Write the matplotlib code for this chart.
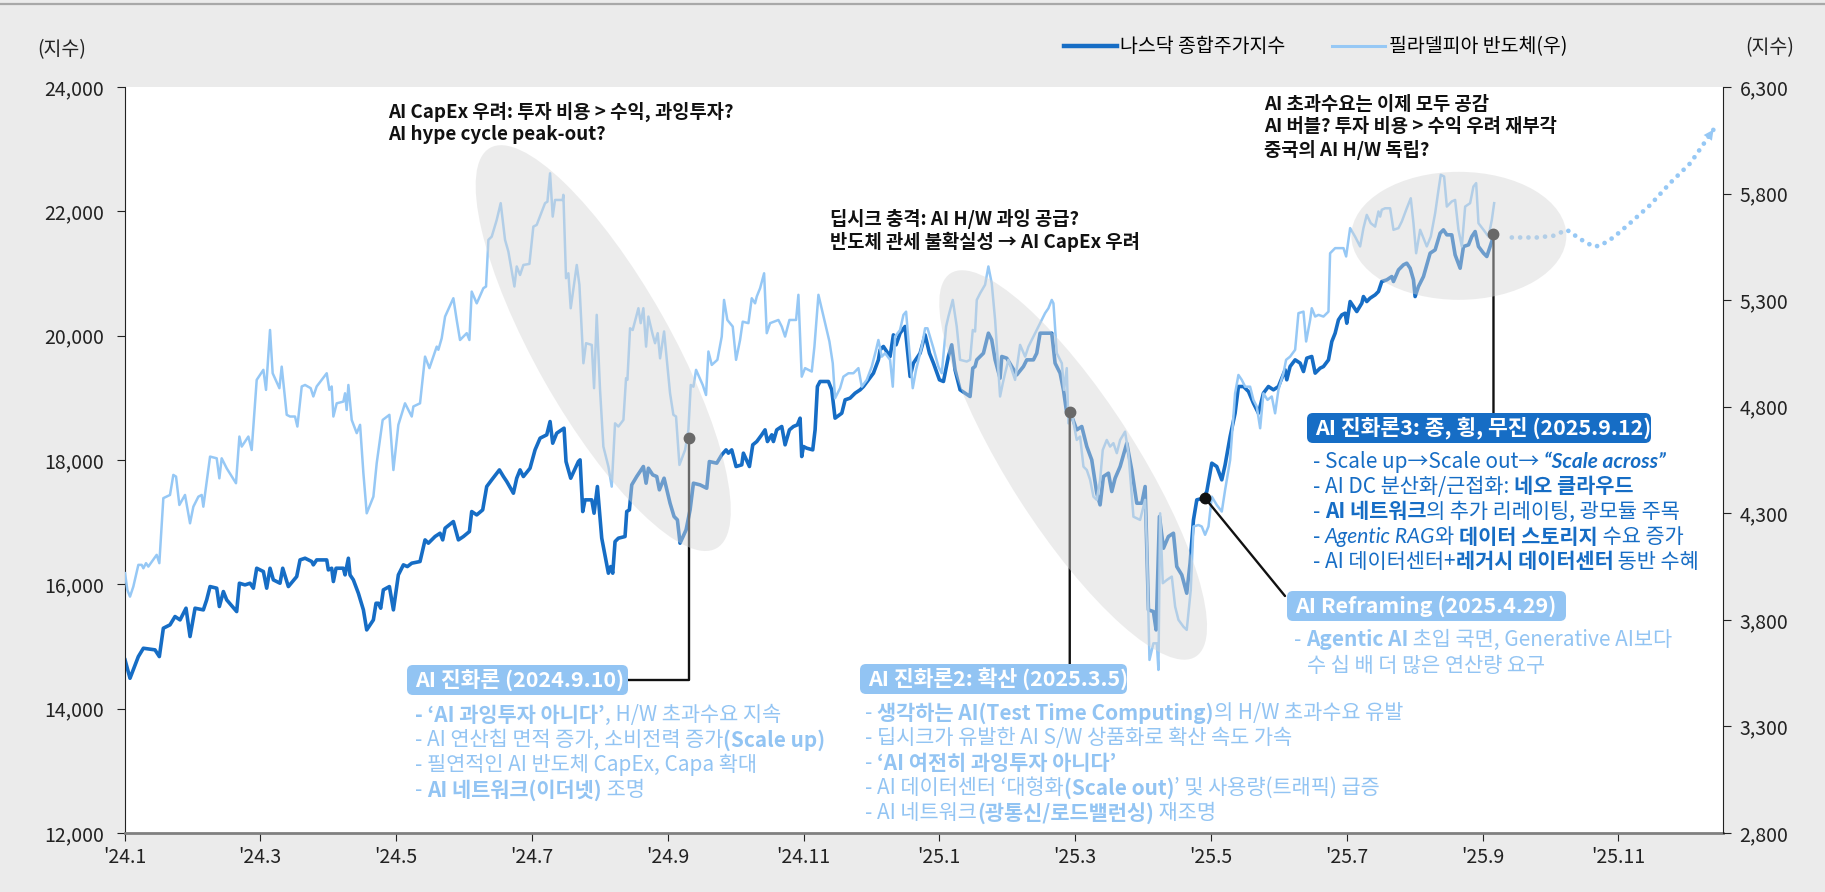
import matplotlib
matplotlib.use('Agg')
import matplotlib.pyplot as plt
from matplotlib.patches import Ellipse, FancyBboxPatch
from matplotlib.transforms import ScaledTranslation
from matplotlib.font_manager import FontProperties
from matplotlib.lines import Line2D

W, H = 1825, 892
KR = ['Noto Sans CJK KR', 'DejaVu Sans']
LAT_IT = ['Lato', 'Noto Sans', 'DejaVu Sans']
plt.rcParams['font.family'] = KR
plt.rcParams['axes.unicode_minus'] = False

# x = months since 2024-01-01
nasdaq = [
    (0.008, 14784), (0.081, 14489), (0.204, 14838), (0.278, 14972), (0.449, 14946), (0.513, 14838),
    (0.572, 15294), (0.670, 15348), (0.744, 15482), (0.818, 15428), (0.906, 15616), (0.965, 15160),
    (1.039, 15616), (1.161, 15589), (1.210, 15750), (1.260, 15964), (1.358, 15938), (1.397, 15643),
    (1.456, 15884), (1.505, 15750), (1.652, 15562), (1.692, 16018), (1.775, 15991), (1.849, 16018),
    (1.898, 15938), (1.947, 16259), (2.045, 16206), (2.094, 15938), (2.143, 16259), (2.192, 16072),
    (2.290, 16018), (2.330, 16259), (2.413, 15964), (2.536, 16125), (2.585, 16393), (2.659, 16420),
    (2.757, 16367), (2.781, 16313), (2.830, 16393), (2.978, 16393), (3.002, 16232), (3.051, 16259),
    (3.076, 16045), (3.115, 16259), (3.223, 16259), (3.248, 16152), (3.297, 16420), (3.321, 16152),
    (3.370, 16072), (3.444, 15857), (3.518, 15589), (3.567, 15267), (3.665, 15428), (3.704, 15696),
    (3.739, 15696), (3.773, 15616), (3.812, 15911), (3.901, 15964), (3.960, 15589), (4.033, 16152),
    (4.107, 16313), (4.166, 16286), (4.230, 16340), (4.352, 16367), (4.426, 16715), (4.475, 16662),
    (4.573, 16769), (4.647, 16822), (4.686, 16715), (4.721, 16903), (4.843, 17010), (4.917, 16715),
    (4.991, 16769), (5.079, 16849), (5.113, 17171), (5.187, 17117), (5.275, 17198), (5.334, 17573),
    (5.408, 17681), (5.521, 17841), (5.580, 17734), (5.629, 17654), (5.727, 17466), (5.776, 17707),
    (5.825, 17841), (5.874, 17734), (5.972, 17868), (6.046, 18163), (6.120, 18351), (6.218, 18405),
    (6.267, 18619), (6.306, 18270), (6.365, 18431), (6.473, 18512), (6.502, 17975), (6.571, 17707),
    (6.684, 17975), (6.709, 18002), (6.748, 17171), (6.782, 17359), (6.881, 17359), (6.915, 17144),
    (6.964, 17573), (7.028, 16742), (7.126, 16179), (7.160, 16286), (7.190, 16179), (7.224, 16688),
    (7.273, 16742), (7.371, 16769), (7.396, 17171), (7.435, 17198), (7.470, 17600), (7.543, 17734),
    (7.641, 17895), (7.681, 17627), (7.715, 17868), (7.779, 17761), (7.838, 17734), (7.877, 17520),
    (7.946, 17707), (8.034, 17305), (8.093, 17091), (8.142, 17037), (8.181, 16662), (8.270, 16876),
    (8.329, 17198), (8.378, 17627), (8.476, 17600), (8.574, 17546), (8.613, 17975), (8.722, 17949),
    (8.795, 18083), (8.859, 18163), (8.893, 18110), (8.942, 18163), (9.006, 17895), (9.090, 17922),
    (9.114, 18110), (9.203, 17895), (9.252, 18244), (9.311, 18297), (9.384, 18405), (9.433, 18485),
    (9.468, 18297), (9.532, 18405), (9.556, 18297), (9.605, 18485), (9.679, 18539), (9.728, 18244),
    (9.792, 18485), (9.851, 18539), (9.909, 18565), (9.949, 18673), (9.973, 18056), (9.998, 18217),
    (10.047, 18190), (10.135, 18163), (10.170, 18485), (10.204, 19182), (10.243, 19263), (10.366, 19263),
    (10.415, 19129), (10.464, 18673), (10.563, 18753), (10.612, 18968), (10.685, 18995), (10.759, 19075),
    (10.833, 19129), (10.882, 19182), (11.029, 19397), (11.102, 19611), (11.127, 19772), (11.176, 19826),
    (11.274, 19665), (11.323, 20013), (11.363, 19853), (11.421, 20040), (11.495, 20148), (11.520, 19879),
    (11.569, 19343), (11.618, 19558), (11.716, 19718), (11.790, 20013), (11.854, 19718), (11.913, 19558),
    (12.001, 19290), (12.060, 19263), (12.133, 19665), (12.182, 19853), (12.231, 19450), (12.305, 19129),
    (12.379, 19075), (12.452, 19021), (12.492, 19477), (12.526, 19504), (12.551, 19611), (12.649, 19718),
    (12.722, 20040), (12.771, 19933), (12.821, 19611), (12.894, 19316), (12.919, 19665), (12.992, 19638),
    (13.066, 19504), (13.140, 19370), (13.238, 19504), (13.287, 19611), (13.385, 19611), (13.434, 19718),
    (13.483, 20040), (13.655, 20040), (13.704, 19558), (13.778, 19397), (13.827, 19129), (13.876, 18753),
    (13.950, 18700), (14.023, 18485), (14.097, 18539), (14.171, 18217), (14.244, 18002), (14.318, 17466),
    (14.367, 17278), (14.416, 17734), (14.490, 17788), (14.539, 17493), (14.588, 17707), (14.662, 17895),
    (14.760, 18270), (14.833, 17841), (14.907, 17305), (14.981, 17305), (15.030, 17573), (15.079, 15589),
    (15.152, 15562), (15.192, 15267), (15.241, 17091), (15.300, 16581), (15.373, 16769), (15.447, 16822),
    (15.496, 16286), (15.570, 16152), (15.643, 15857), (15.692, 16340), (15.742, 17037), (15.791, 17359),
    (15.889, 17386), (15.938, 17493), (16.012, 17949), (16.085, 17895), (16.159, 17681), (16.208, 17922),
    (16.282, 18378), (16.355, 18753), (16.404, 19182), (16.478, 19182), (16.552, 19102), (16.625, 18914),
    (16.699, 18753), (16.772, 19075), (16.846, 19182), (16.920, 19129), (16.993, 19182), (17.092, 19450),
    (17.116, 19290), (17.165, 19504), (17.239, 19611), (17.313, 19558), (17.362, 19423), (17.411, 19638),
    (17.484, 19665), (17.534, 19397), (17.607, 19477), (17.656, 19503), (17.730, 19610), (17.779, 19905),
    (17.828, 20039), (17.877, 20254), (17.926, 20334), (17.975, 20361), (18.000, 20200), (18.049, 20549),
    (18.098, 20469), (18.147, 20388), (18.221, 20522), (18.245, 20629), (18.294, 20549), (18.343, 20603),
    (18.417, 20656), (18.466, 20710), (18.515, 20871), (18.589, 20898), (18.663, 20951), (18.687, 20871),
    (18.761, 21058), (18.834, 21139), (18.883, 21166), (18.933, 21085), (18.982, 20898), (19.006, 20629),
    (19.055, 20790), (19.129, 20951), (19.178, 21139), (19.227, 21327), (19.301, 21380), (19.374, 21648),
    (19.423, 21702), (19.473, 21622), (19.546, 21622), (19.595, 21300), (19.669, 21085), (19.718, 21434),
    (19.792, 21461), (19.841, 21595), (19.890, 21675), (19.939, 21434), (20.013, 21327), (20.062, 21273),
    (20.111, 21434), (20.170, 21632),
]

sox = [
    (0.008, 4019), (0.042, 3940), (0.081, 3909), (0.130, 3956), (0.204, 4058), (0.253, 4058),
    (0.278, 4042), (0.317, 4066), (0.351, 4050), (0.474, 4105), (0.513, 4066), (0.572, 4371),
    (0.670, 4386), (0.719, 4480), (0.759, 4472), (0.808, 4339), (0.891, 4386), (0.965, 4253),
    (1.014, 4331), (1.088, 4378), (1.137, 4386), (1.161, 4331), (1.260, 4566), (1.358, 4558),
    (1.397, 4464), (1.431, 4558), (1.505, 4511), (1.642, 4441), (1.692, 4660), (1.726, 4613),
    (1.824, 4660), (1.873, 4597), (1.947, 4926), (2.045, 4973), (2.084, 4879), (2.143, 5160),
    (2.182, 4957), (2.281, 4887), (2.315, 4988), (2.389, 4762), (2.438, 4754), (2.511, 4754),
    (2.546, 4707), (2.610, 4895), (2.659, 4902), (2.742, 4887), (2.781, 4848), (2.830, 4895),
    (2.978, 4957), (3.017, 4879), (3.051, 4895), (3.076, 4754), (3.125, 4816), (3.223, 4824),
    (3.248, 4863), (3.272, 4785), (3.297, 4902), (3.346, 4738), (3.420, 4676), (3.469, 4715),
    (3.518, 4488), (3.567, 4300), (3.665, 4378), (3.714, 4535), (3.802, 4738), (3.901, 4762),
    (3.960, 4503), (4.033, 4715), (4.131, 4816), (4.180, 4785), (4.230, 4754), (4.254, 4801),
    (4.352, 4816), (4.426, 5035), (4.490, 4981), (4.598, 5082), (4.622, 5067), (4.671, 5121),
    (4.721, 5223), (4.843, 5309), (4.892, 5207), (4.941, 5113), (5.040, 5145), (5.079, 5113),
    (5.113, 5340), (5.187, 5285), (5.285, 5356), (5.324, 5364), (5.359, 5583), (5.408, 5598),
    (5.481, 5676), (5.540, 5755), (5.604, 5583), (5.653, 5528), (5.742, 5364), (5.776, 5458),
    (5.825, 5418), (5.874, 5465), (5.963, 5470), (6.021, 5645), (6.070, 5653), (6.193, 5755),
    (6.228, 5762), (6.267, 5895), (6.306, 5692), (6.340, 5770), (6.453, 5770), (6.463, 5794),
    (6.502, 5403), (6.537, 5426), (6.571, 5262), (6.660, 5465), (6.699, 5372), (6.758, 5004),
    (6.797, 5098), (6.881, 5090), (6.915, 4887), (6.954, 5231), (7.003, 4879), (7.052, 4613),
    (7.126, 4519), (7.175, 4425), (7.224, 4722), (7.273, 4707), (7.347, 4738), (7.386, 4934),
    (7.406, 4926), (7.445, 5168), (7.484, 5160), (7.568, 5262), (7.602, 5192), (7.641, 5262),
    (7.681, 5082), (7.715, 5223), (7.779, 5137), (7.813, 5098), (7.852, 5145), (7.887, 5027),
    (7.946, 5153), (8.034, 4863), (8.083, 4762), (8.122, 4754), (8.172, 4527), (8.255, 4597),
    (8.304, 4691), (8.339, 4902), (8.378, 4894), (8.417, 4973), (8.515, 4902), (8.564, 4855),
    (8.599, 5059), (8.648, 4996), (8.731, 5020), (8.795, 5129), (8.829, 5301), (8.878, 5207),
    (8.957, 5176), (9.006, 5020), (9.065, 5113), (9.104, 5199), (9.188, 5192), (9.237, 5309),
    (9.286, 5285), (9.311, 5317), (9.360, 5356), (9.419, 5426), (9.458, 5145), (9.507, 5192),
    (9.630, 5207), (9.679, 5176), (9.728, 5129), (9.792, 5207), (9.890, 5207), (9.924, 5325),
    (9.973, 4941), (10.022, 4981), (10.121, 4965), (10.160, 5082), (10.219, 5325), (10.317, 5192),
    (10.381, 5106), (10.430, 5004), (10.464, 4840), (10.538, 4887), (10.587, 4941), (10.661, 4957),
    (10.734, 4957), (10.808, 4981), (10.857, 4894), (10.931, 4926), (11.004, 4988), (11.068, 5067),
    (11.102, 5113), (11.152, 5035), (11.201, 5051), (11.274, 5020), (11.314, 4894), (11.348, 5129),
    (11.421, 5160), (11.471, 5231), (11.510, 5246), (11.544, 5113), (11.608, 4887), (11.657, 4973),
    (11.741, 5082), (11.790, 5168), (11.825, 5168), (11.913, 5074), (11.986, 4988), (12.035, 4957),
    (12.099, 5176), (12.133, 5223), (12.197, 5301), (12.256, 5176), (12.305, 5020), (12.403, 5012),
    (12.452, 5020), (12.492, 5160), (12.526, 5153), (12.551, 5301), (12.600, 5332), (12.673, 5372),
    (12.722, 5458), (12.771, 5379), (12.821, 5207), (12.894, 4848), (12.934, 4910), (12.968, 4957),
    (13.017, 5020), (13.066, 4973), (13.115, 4926), (13.189, 5090), (13.263, 5035), (13.312, 5082),
    (13.410, 5145), (13.483, 5192), (13.557, 5239), (13.606, 5262), (13.655, 5301), (13.680, 5285),
    (13.729, 5051), (13.803, 5004), (13.837, 4879), (13.876, 4981), (13.900, 4722), (13.950, 4769),
    (14.023, 4644), (14.072, 4660), (14.122, 4519), (14.171, 4503), (14.220, 4457), (14.269, 4378),
    (14.318, 4363), (14.367, 4457), (14.406, 4597), (14.465, 4644), (14.514, 4613), (14.563, 4629),
    (14.613, 4582), (14.662, 4644), (14.735, 4683), (14.784, 4582), (14.858, 4284), (14.956, 4269),
    (15.030, 4363), (15.054, 4159), (15.094, 3612), (15.152, 3690), (15.202, 3690), (15.226, 3565),
    (15.251, 4300), (15.290, 3972), (15.349, 3987), (15.423, 4003), (15.472, 3862), (15.521, 3800),
    (15.594, 3768), (15.643, 3753), (15.702, 3940), (15.742, 4238), (15.815, 4245), (15.864, 4238),
    (15.913, 4199), (15.963, 4238), (16.012, 4378), (16.085, 4339), (16.159, 4308), (16.208, 4410),
    (16.282, 4550), (16.355, 4863), (16.404, 4949), (16.453, 4926), (16.503, 4894), (16.576, 4894),
    (16.625, 4832), (16.674, 4801), (16.724, 4699), (16.772, 4863), (16.832, 4832), (16.895, 4848),
    (16.944, 4769), (16.993, 4879), (17.067, 4957), (17.106, 5020), (17.165, 5035), (17.239, 5067),
    (17.288, 5239), (17.362, 5246), (17.401, 5106), (17.460, 5207), (17.484, 5262), (17.534, 5223),
    (17.583, 5231), (17.656, 5223), (17.730, 5246), (17.754, 5520), (17.828, 5544), (17.951, 5544),
    (17.990, 5505), (18.049, 5638), (18.122, 5598), (18.196, 5552), (18.245, 5638), (18.294, 5700),
    (18.353, 5661), (18.417, 5645), (18.466, 5716), (18.491, 5692), (18.515, 5724), (18.564, 5731),
    (18.638, 5731), (18.687, 5630), (18.761, 5638), (18.810, 5669), (18.883, 5731), (18.942, 5778),
    (18.982, 5661), (19.021, 5520), (19.080, 5630), (19.129, 5591), (19.178, 5552), (19.237, 5598),
    (19.301, 5708), (19.350, 5817), (19.384, 5888), (19.433, 5880), (19.473, 5739), (19.546, 5763),
    (19.595, 5770), (19.644, 5630), (19.694, 5552), (19.743, 5739), (19.816, 5755), (19.865, 5833),
    (19.905, 5849), (19.939, 5661), (20.013, 5630), (20.087, 5598), (20.136, 5677), (20.170, 5755),
]

# dotted outlook path (right axis)
outlook = [
    (20.43, 5594), (20.80, 5594), (21.04, 5602), (21.24, 5630), (21.44, 5586), (21.63, 5552),
    (21.73, 5555), (21.93, 5595), (22.17, 5661), (22.47, 5747), (22.76, 5849), (23.06, 5943),
    (23.40, 6100),
]

tick_pos = list(range(0, 23, 2))
tick_lab = ["'24.1", "'24.3", "'24.5", "'24.7", "'24.9", "'24.11",
            "'25.1", "'25.3", "'25.5", "'25.7", "'25.9", "'25.11"]

# event markers (month, value)
ev_1 = (8.31, 4655)     # 2024.9.10 on SOX
ev_2 = (13.92, 18770)   # 2025.3.5 on Nasdaq
ev_3 = (15.91, 17390)   # 2025.4.29 on Nasdaq
ev_4 = (20.16, 21633)   # 2025.9.12 on Nasdaq

NQC = '#166dc5'
SXC = '#96c8f5'
LIGHT = '#92c4f3'
BUL = 15

fig = plt.figure(figsize=(W / 100, H / 100), dpi=100, facecolor='#ebebeb')
ax = fig.add_axes([124.5 / W, 1 - 833 / H, (1723 - 124.5) / W, (833 - 87) / H])
ax.set_facecolor('white')
ax2 = ax.twinx()

nt, nv = zip(*nasdaq)
st, sv = zip(*sox)
ot, ov = zip(*outlook)
l1, = ax.plot(nt, nv, color=NQC, lw=2.6, solid_joinstyle='round', zorder=2)
l2, = ax2.plot(st, sv, color=SXC, lw=1.8, solid_joinstyle='round', zorder=2)
ax2.plot(ot, ov, color=SXC, lw=3.4, linestyle=(0, (0.01, 1.75)), dash_capstyle='round', zorder=2)
ax2.annotate('', xy=outlook[-1], xytext=outlook[-2],
             arrowprops=dict(arrowstyle='-|>', color=SXC, lw=0, mutation_scale=18,
                             shrinkA=0, shrinkB=0))

ax.set_xticks(tick_pos)
ax.set_xticklabels(tick_lab)
ax.set_yticks(range(12000, 24001, 2000))
ax.set_yticklabels([f'{v:,}' for v in range(12000, 24001, 2000)])
ax2.set_yticks(range(2800, 6301, 500))
ax2.set_yticklabels([f'{v:,}' for v in range(2800, 6301, 500)])

for a in (ax, ax2):
    a.spines['top'].set_visible(False)
ax.spines['right'].set_visible(False)
ax2.spines['left'].set_visible(False)
ax2.spines['bottom'].set_visible(False)
ax.spines['left'].set_color('#222222')
ax2.spines['right'].set_color('#222222')
ax.spines['bottom'].set_color('#808080')
ax.spines['bottom'].set_linewidth(2)
ax.tick_params(axis='y', length=6, pad=9, labelsize=14, colors='#222222')
ax2.tick_params(axis='y', length=6, pad=6, labelsize=14, colors='#222222')
ax.tick_params(axis='x', length=6, pad=4, labelsize=14, colors='#222222')

# connectors and markers
fp = 'figure pixels'
arr = dict(arrowstyle='-', color='#111111', lw=1.7, shrinkA=0, shrinkB=0)
ax2.annotate('', xy=ev_1, xycoords=ax2.transData, xytext=(628, H - 680), textcoords=fp,
             arrowprops=dict(arr, connectionstyle='angle,angleA=0,angleB=90,rad=0'), zorder=4)
ax2.annotate('', xy=ev_2, xycoords=ax.transData, xytext=(ev_2[0], H - 664),
             textcoords=('data', fp), arrowprops=arr, zorder=4)
ax2.annotate('', xy=ev_3, xycoords=ax.transData, xytext=(1285, H - 596), textcoords=fp,
             arrowprops=arr, zorder=4)
ax2.annotate('', xy=ev_4, xycoords=ax.transData, xytext=(ev_4[0], H - 413),
             textcoords=('data', fp), arrowprops=arr, zorder=4)
ax2.plot(*ev_1, 'o', color='#111111', ms=7.5, zorder=5)
for e in (ev_2, ev_3, ev_4):
    ax2.plot(*e, 'o', color='#111111', ms=7.5, zorder=5, transform=ax.transData)


def blob(cx, cy, w, h, ang):
    tr = fig.dpi_scale_trans + ScaledTranslation(cx, cy, ax.transData)
    ax2.add_patch(Ellipse((0, 0), w / 100, h / 100, angle=ang, transform=tr,
                          fc='#d6d6d6', ec='none', alpha=0.45, zorder=6))


blob(7.05, 19800, 460, 135, -60.5)
blob(13.97, 17920, 455, 128, -57.4)
blob(19.65, 21606, 215, 128, 0)

ax.set_xlim(0, 23.54)
ax.set_ylim(12000, 24000)
ax2.set_ylim(2800, 6300)

# legend and unit labels
fig.legend(handles=[Line2D([], [], color=NQC, lw=3.2), Line2D([], [], color=SXC, lw=2.2)],
           labels=['나스닥 종합주가지수', '필라델피아 반도체(우)'], loc='center left',
           bbox_to_anchor=(1064 / W, 1 - 47 / H), ncol=2, frameon=False, fontsize=14,
           handlelength=2.7, handletextpad=0.2, columnspacing=2.4, borderpad=0, borderaxespad=0)
fig.text(62 / W, 1 - 50 / H, '(지수)', ha='center', va='center', fontsize=14, color='#222222')
fig.text(1770 / W, 1 - 48 / H, '(지수)', ha='center', va='center', fontsize=14, color='#222222')
fig.add_artist(Line2D([0, 1], [1 - 4 / H] * 2, transform=fig.transFigure, color='#a8a8a8', lw=1.6))

renderer = fig.canvas.get_renderer()


def props(size, weight, style):
    fam = LAT_IT if style == 'italic' else KR
    return FontProperties(family=fam, size=size, weight=weight, style=style)


def width(s, fp_):
    a = renderer.get_text_width_height_descent('|' + s + '|', fp_, ismath=False)[0]
    b = renderer.get_text_width_height_descent('||', fp_, ismath=False)[0]
    return a - b


def rich(x, y, parts, color, size=BUL):
    for part in parts:
        txt = part[0]
        weight = part[1] if len(part) > 1 else 'normal'
        style = part[2] if len(part) > 2 else 'normal'
        p = props(size, weight, style)
        fig.text(x / W, 1 - y / H, txt, fontproperties=p, color=color, va='center', ha='left', zorder=9)
        x += width(txt, p)


def tag(x0, y0, x1, y1, fc, txt):
    fig.add_artist(FancyBboxPatch((x0 / 100, (H - y1) / 100), (x1 - x0) / 100, (y1 - y0) / 100,
                                  boxstyle='round,pad=0,rounding_size=0.06', transform=fig.dpi_scale_trans,
                                  fc=fc, ec='none', zorder=7))
    fig.text((x0 + 8) / W, 1 - (y0 + y1) / 2 / H, txt, color='white', fontsize=15.5, fontweight='bold',
             va='center', ha='left', zorder=8)


for i, s in enumerate(['AI CapEx 우려: 투자 비용 > 수익, 과잉투자?', 'AI hype cycle peak-out?']):
    fig.text(388 / W, 1 - (112 + 23 * i) / H, s, fontsize=13.5, fontweight='bold', va='center', color='#111111')
for i, s in enumerate(['딥시크 충격: AI H/W 과잉 공급?', '반도체 관세 불확실성 → AI CapEx 우려']):
    fig.text(830 / W, 1 - (219 + 23 * i) / H, s, fontsize=13.5, fontweight='bold', va='center', color='#111111')
for i, s in enumerate(['AI 초과수요는 이제 모두 공감', 'AI 버블? 투자 비용 > 수익 우려 재부각', '중국의 AI H/W 독립?']):
    fig.text(1264 / W, 1 - (104 + 23 * i) / H, s, fontsize=13.5, fontweight='bold', va='center', color='#111111')

tag(407, 665, 628, 695, LIGHT, 'AI 진화론 (2024.9.10)')
rich(415, 715, [('- ‘AI 과잉투자 아니다’', 'bold'), (', H/W 초과수요 지속',)], LIGHT)
rich(415, 740, [('- AI 연산칩 면적 증가, 소비전력 증가',), ('(Scale up)', 'bold')], LIGHT)
rich(415, 765, [('- 필연적인 AI 반도체 CapEx, Capa 확대',)], LIGHT)
rich(415, 790, [('- ',), ('AI 네트워크(이더넷)', 'bold'), (' 조명',)], LIGHT)

tag(860, 664, 1127, 694, LIGHT, 'AI 진화론2: 확산 (2025.3.5)')
rich(865, 713, [('- ',), ('생각하는 AI(Test Time Computing)', 'bold'), ('의 H/W 초과수요 유발',)], LIGHT)
rich(865, 738, [('- 딥시크가 유발한 AI S/W 상품화로 확산 속도 가속',)], LIGHT)
rich(865, 763, [('- ',), ('‘AI 여전히 과잉투자 아니다’', 'bold')], LIGHT)
rich(865, 788, [('- AI 데이터센터 ‘대형화',), ('(Scale out)', 'bold'), ('’ 및 사용량(트래픽) 급증',)], LIGHT)
rich(865, 813, [('- AI 네트워크',), ('(광통신/로드밸런싱)', 'bold'), (' 재조명',)], LIGHT)

tag(1307, 413, 1651, 443, NQC, 'AI 진화론3: 종, 횡, 무진 (2025.9.12)')
rich(1313, 462, [('- Scale up→Scale out→ ',), ('“Scale across”', 'bold', 'italic')], NQC)
rich(1313, 487, [('- AI DC 분산화/근접화: ',), ('네오 클라우드', 'bold')], NQC)
rich(1313, 512, [('- ',), ('AI 네트워크', 'bold'), ('의 추가 리레이팅, 광모듈 주목',)], NQC)
rich(1313, 537, [('- ',), ('Agentic RAG', 'normal', 'italic'), ('와 ',), ('데이터 스토리지', 'bold'), (' 수요 증가',)], NQC)
rich(1313, 562, [('- AI 데이터센터+',), ('레거시 데이터센터', 'bold'), (' 동반 수혜',)], NQC)

tag(1287, 591, 1566, 621, LIGHT, 'AI Reframing (2025.4.29)')
rich(1294, 640, [('- ',), ('Agentic AI', 'bold'), (' 초입 국면, Generative AI보다',)], LIGHT)
rich(1307, 666, [('수 십 배 더 많은 연산량 요구',)], LIGHT)

fig.savefig('out.png', dpi=100, facecolor=fig.get_facecolor())
